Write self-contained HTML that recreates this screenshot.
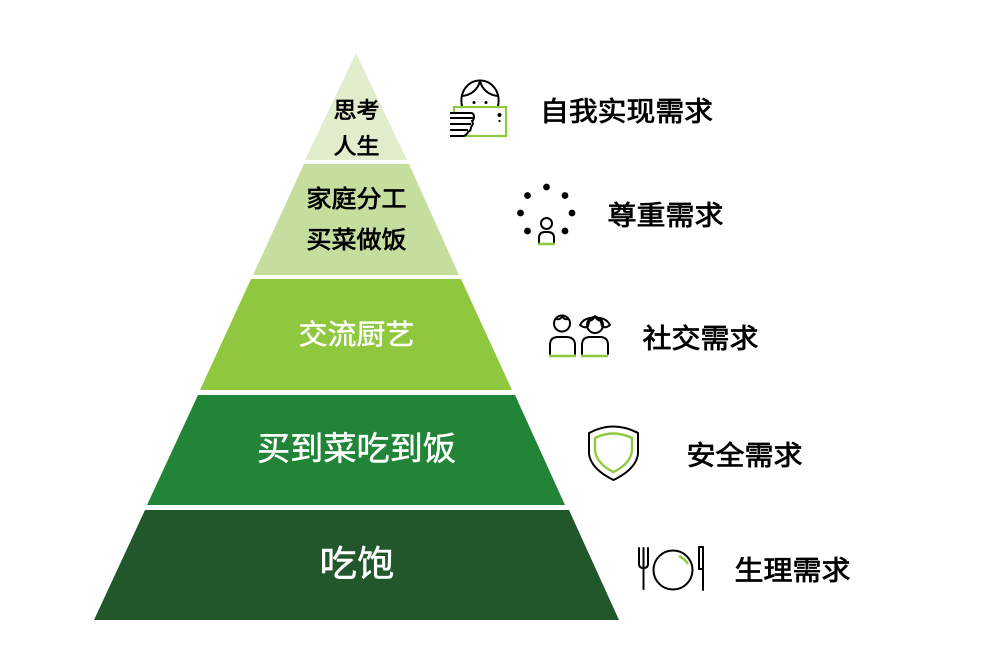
<!DOCTYPE html>
<html lang="zh">
<head>
<meta charset="utf-8">
<style>
html,body{margin:0;padding:0;background:#fff;width:986px;height:670px;overflow:hidden}
svg{display:block}
text{font-family:"Liberation Sans","Noto Sans CJK SC",sans-serif;text-anchor:middle}
.k{fill:#000;font-weight:400;stroke:#000;stroke-width:.75px}
.w{fill:#fff;font-weight:400;stroke:#fff;stroke-width:.45px}
.s{fill:none;stroke:#000;stroke-width:2;stroke-linecap:round;stroke-linejoin:round}
.g{fill:none;stroke:#8fc93f;stroke-width:2.4}
</style>
</head>
<body>
<svg width="986" height="670" viewBox="0 0 986 670" xmlns="http://www.w3.org/2000/svg">
<polygon points="356,53 407,160 305,160" fill="#e1edcd"/>
<polygon points="304,164 409,164 459,275 253,275" fill="#c5de9e"/>
<polygon points="251,279 461,279 512,390 200,390" fill="#8fc83f"/>
<polygon points="198,395 515,395 565,505 147,505" fill="#218437"/>
<polygon points="145,510 569,510 619,620 94,620" fill="#22572b"/>

<text x="356.500" y="118" font-size="22" class="k" textLength="46" lengthAdjust="spacingAndGlyphs">思考</text>
<text x="356.500" y="154" font-size="22" class="k" textLength="46" lengthAdjust="spacingAndGlyphs">人生</text>
<text x="356.500" y="207" font-size="24" class="k" textLength="100" lengthAdjust="spacingAndGlyphs">家庭分工</text>
<text x="356.500" y="248" font-size="24" class="k" textLength="100" lengthAdjust="spacingAndGlyphs">买菜做饭</text>
<text x="356.500" y="344" font-size="28" class="w" textLength="116" lengthAdjust="spacingAndGlyphs">交流厨艺</text>
<text x="356.500" y="460" font-size="33" class="w" textLength="199" lengthAdjust="spacingAndGlyphs">买到菜吃到饭</text>
<text x="357" y="576" font-size="36" class="w" textLength="75" lengthAdjust="spacingAndGlyphs">吃饱</text>

<text x="626.500" y="121" font-size="27" class="k" textLength="173" lengthAdjust="spacingAndGlyphs">自我实现需求</text>
<text x="665.500" y="225" font-size="27" class="k" textLength="116" lengthAdjust="spacingAndGlyphs">尊重需求</text>
<text x="700.500" y="348" font-size="27" class="k" textLength="116" lengthAdjust="spacingAndGlyphs">社交需求</text>
<text x="744.500" y="465" font-size="27" class="k" textLength="116" lengthAdjust="spacingAndGlyphs">安全需求</text>
<text x="792.500" y="580" font-size="27" class="k" textLength="116" lengthAdjust="spacingAndGlyphs">生理需求</text>

<!-- self-actualization icon -->
<path class="s" d="M462,106 C459,92 468,80.500 480,80.500 C492,80.500 501,92 498,106"/>
<path class="s" d="M462,96 C472,95 478,89 480,81 C482,89 488,95 498,96"/>
<circle cx="474" cy="102.500" r="1.500" fill="#000"/>
<circle cx="486" cy="102.500" r="1.500" fill="#000"/>
<rect x="454" y="107" width="52" height="29" fill="#fff" stroke="#8fc93f" stroke-width="2.200"/>
<circle cx="499.500" cy="115" r="2" fill="#000"/>
<circle cx="499.500" cy="121" r="1.100" fill="#000"/>
<path d="M450,113 H471 Q474,113 474,117 Q474,120 472,121 Q474,124 471,127 Q471,131 468,132 Q466,136 463,136 H450 M450,118 H473 M450,124 H471 M450,130 H468" fill="#fff" stroke="#000" stroke-width="2"/>

<!-- esteem icon -->
<g fill="#000">
<circle cx="546.500" cy="187" r="3.400"/>
<circle cx="527.500" cy="195.500" r="3.400"/>
<circle cx="565" cy="195.500" r="3.400"/>
<circle cx="520.500" cy="213" r="3.400"/>
<circle cx="572" cy="213" r="3.400"/>
<circle cx="527.500" cy="231" r="3.400"/>
<circle cx="565" cy="231" r="3.400"/>
</g>
<circle cx="546.500" cy="223.500" r="5.500" class="s"/>
<path class="s" d="M539,243 V238 Q539,232 545,232 H548 Q554,232 554,238 V243"/>
<path class="g" d="M538,244 H555"/>

<!-- social icon -->
<circle cx="562" cy="323.500" r="8" class="s"/>
<path class="s" d="M556,319 Q561,320 562,316 Q564,320 568,319"/>
<path class="s" d="M550,354 V345 Q550,337 558,337 H566 Q575,337 575,345 V354"/>
<path class="g" d="M549,356 H576"/>
<circle cx="595" cy="325" r="8" class="s"/>
<path class="s" d="M588,321 Q593,321 595,316 Q597,321 602,321"/>
<path class="s" d="M590,318 Q583,319 580,325 Q585,329 588,326 Z M600,318 Q607,319 610,325 Q605,329 602,326 Z"/>
<path class="s" d="M582,354 V345 Q582,337 590,337 H600 Q608,337 608,345 V354"/>
<path class="g" d="M581,356 H608"/>

<!-- shield icon -->
<path class="s" d="M589,433 Q613,420 638,433 V454 Q636,469 613.500,480 Q591,469 589,454 Z"/>
<path class="g" d="M595,438 Q613,429 632,438 V451 Q630,464 613.500,472 Q597,464 595,451 Z" stroke-linejoin="round"/>

<!-- food icon -->
<path class="s" d="M639,548 V564 Q639,568 643.500,568 Q648,568 648,564 V548 M643.500,548 V589"/>
<circle cx="673" cy="570" r="19.500" class="s"/>
<path fill="none" stroke="#8fc93f" stroke-width="2.400" d="M679,556 Q685,559 688,564"/>
<path class="s" d="M699,547 H703 V590 M703,569 H699 Z M699,569 V547"/>
</svg>
</body>
</html>
